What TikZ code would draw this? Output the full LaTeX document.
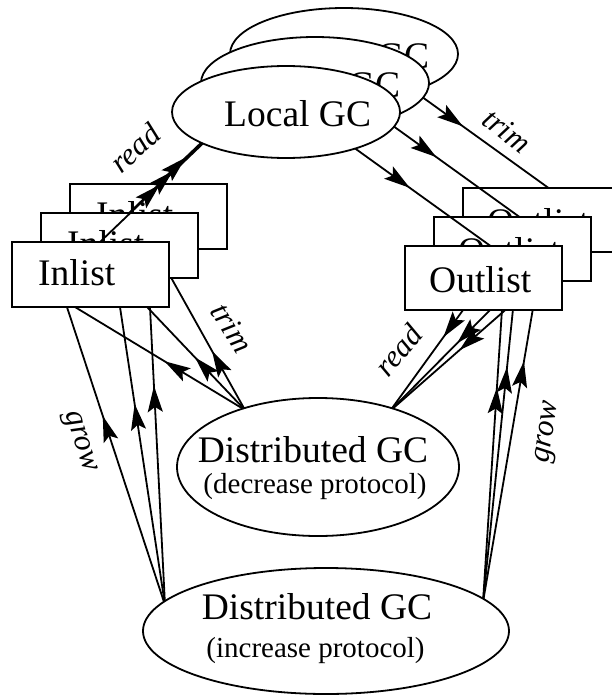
\documentclass[tikz,border=0pt]{standalone}
\usepackage{fontspec}
\setmainfont{Liberation Serif}
\usetikzlibrary{arrows.meta,decorations.markings,shapes.geometric}
\begin{document}
\begin{tikzpicture}[x=1pt,y=-1pt,
  conn/.style={line width=1.8pt},
  midarr/.style={postaction={decorate,decoration={markings,mark=at position #1 with {\arrow{Stealth[length=26pt,width=15pt,inset=5pt]}}}}},
  gcell/.style={draw,line width=1.8pt,fill=white,ellipse,inner sep=0pt},
  listbox/.style={draw,line width=1.8pt,fill=white,rectangle,minimum width=157pt,minimum height=65pt,inner sep=0pt},
  bigtxt/.style={inner sep=0pt,font=\fontsize{37.5}{40}\selectfont},
  smalltxt/.style={inner sep=0pt,font=\fontsize{29}{32}\selectfont},
  lbl/.style={inner sep=0pt,font=\fontsize{31}{34}\selectfont\itshape}]
\useasboundingbox (0,0) rectangle (611,696);
% common endpoints on the distributed GC ellipses
\coordinate (tlS) at (245,410);
\coordinate (glS) at (165,605);
\coordinate (rrE) at (390,411);
\coordinate (grS) at (483,602);
% ---------------- layer 2 (back) ----------------
\begin{scope}[shift={(58,-58)}]
  \coordinate (rlA2) at (100,242); \coordinate (rlB2) at (215,132);
  \coordinate (trA2) at (335,134); \coordinate (trB2) at (497.5,251);
\end{scope}
\coordinate (tlE2) at (149.5,239);
\coordinate (glE2) at (146.6,240);
\coordinate (rrA2) at (579.5,245);
\coordinate (grE2) at (544.6,240);
\draw[conn,midarr=0.24] (rlA2) -- (rlB2);
\draw[conn,midarr=0.43] (trA2) -- (trB2);
\draw[conn,midarr=0.345] (tlS) -- (tlE2);
\draw[conn,midarr=0.6] (glS) -- (glE2);
\draw[conn,midarr=0.633] (rrA2) -- (rrE);
\draw[conn,midarr=0.665] (grS) -- (grE2);
\begin{scope}[shift={(58,-58)}]
  \node[gcell,minimum width=228pt,minimum height=92pt] (lgc2) at (286,112) {};
  \node[bigtxt,anchor=base west] (lgct2) at (224,126) {Local GC};
  \node[listbox] (in2) at (90.5,274.5) {};
  \node[bigtxt,anchor=base west] (int2) at (38,285) {Inlist};
  \node[listbox,minimum height=64pt] (out2) at (483.5,278) {};
  \node[bigtxt,anchor=base west] (outt2) at (429,292) {Outlist};
\end{scope}
% ---------------- layer 1 (middle) ----------------
\begin{scope}[shift={(29,-29)}]
  \coordinate (rlA1) at (100,242); \coordinate (rlB1) at (215,132);
  \coordinate (trA1) at (335,134); \coordinate (trB1) at (497.5,251);
\end{scope}
\coordinate (tlE1) at (110,268);
\coordinate (glE1) at (114.4,270);
\coordinate (rrA1) at (529.6,270);
\coordinate (grE1) at (517,270);
\draw[conn,midarr=0.38] (rlA1) -- (rlB1);
\draw[conn,midarr=0.445] (trA1) -- (trB1);
\draw[conn,midarr=0.37] (tlS) -- (tlE1);
\draw[conn,midarr=0.6] (glS) -- (glE1);
\draw[conn,midarr=0.518] (rrA1) -- (rrE);
\draw[conn,midarr=0.708] (grS) -- (grE1);
\begin{scope}[shift={(29,-29)}]
  \node[gcell,minimum width=228pt,minimum height=92pt] (lgc1) at (286,112) {};
  \node[bigtxt,anchor=base west] (lgct1) at (224,126) {Local GC};
  \node[listbox] (in1) at (90.5,274.5) {};
  \node[bigtxt,anchor=base west] (int1) at (38,285) {Inlist};
  \node[listbox,minimum height=64pt] (out1) at (483.5,278) {};
  \node[bigtxt,anchor=base west] (outt1) at (429,292) {Outlist};
\end{scope}
% ---------------- layer 0 (front) ----------------
\coordinate (rlA0) at (100,242); \coordinate (rlB0) at (215,132);
\coordinate (trA0) at (335,134); \coordinate (trB0) at (497.5,251);
\coordinate (tlE0) at (70,304);
\coordinate (glE0) at (63,295);
\coordinate (rrA0) at (470.3,300);
\coordinate (grE0) at (502.6,300);
\draw[conn,midarr=0.52] (rlA0) -- (rlB0);
\draw[conn,midarr=0.46] (trA0) -- (trB0);
\draw[conn,midarr=0.46] (tlS) -- (tlE0);
\draw[conn,midarr=0.61] (glS) -- (glE0);
\draw[conn,midarr=0.334] (rrA0) -- (rrE);
\draw[conn,midarr=0.71] (grS) -- (grE0);
\node[gcell,minimum width=228pt,minimum height=92pt] (lgc0) at (286,112) {};
\node[bigtxt,anchor=base west] (lgct0) at (224,126) {Local GC};
\node[listbox] (in0) at (90.5,274.5) {};
\node[bigtxt,anchor=base west] (int0) at (38,285) {Inlist};
\node[listbox,minimum height=64pt] (out0) at (483.5,278) {};
\node[bigtxt,anchor=base west] (outt0) at (429,292) {Outlist};
% ---------------- distributed GC ----------------
\node[gcell,minimum width=282pt,minimum height=138pt] (dec) at (318,467) {};
\node[bigtxt,anchor=base] (dect1) at (313,462) {Distributed GC};
\node[smalltxt,anchor=base] (dect2) at (315,493) {(decrease protocol)};
\node[gcell,minimum width=366pt,minimum height=126pt] (inc) at (326,631) {};
\node[bigtxt,anchor=base] (inct1) at (317,619) {Distributed GC};
\node[smalltxt,anchor=base] (inct2) at (315.5,657) {(increase protocol)};
% ---------------- labels ----------------
\node[lbl,rotate=42] (readL) at (135,148) {read};
\node[lbl,rotate=-37] (trimR) at (507,131) {trim};
\node[lbl,rotate=-58] (trimL) at (232,328) {trim};
\node[lbl,rotate=50] (readR) at (398,350) {read};
\node[lbl,rotate=-72] (growL) at (79,442) {grow};
\node[lbl,rotate=82] (growR) at (549,432) {grow};
\end{tikzpicture}
\end{document}
